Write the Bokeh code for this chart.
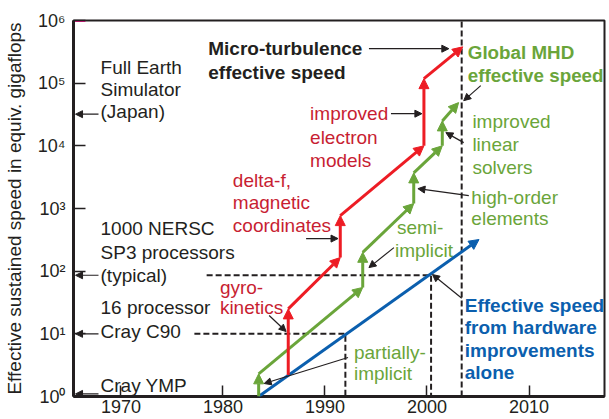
import math
from bokeh.plotting import figure
from bokeh.models import Range1d, FixedTicker, Arrow, NormalHead, ColumnDataSource
from bokeh.core.properties import value
from bokeh.embed import file_html
from bokeh.resources import INLINE

# ---------------- data ----------------
year_ticks = [1970, 1980, 1990, 2000, 2010]
gflops_ticks = [1, 10, 100, 1000, 10000, 100000, 1000000]
gflops_tick_labels = ["10\u2070", "10\u00b9", "10\u00b2", "10\u00b3", "10\u2074", "10\u2075", "10\u2076"]

# Micro-turbulence effective speed (red)
years_micro = [1986.4, 1986.4, 1991.5, 1991.5, 1999.7, 1999.7, 2003.5]
gflops_micro = [2.2, 25, 165, 770, 10000, 118000, 380000]

# Global MHD effective speed (green)
years_mhd = [1983.5, 1983.5, 1993.7, 1993.7, 1998.7, 1998.7, 2001.5, 2001.5, 2003.1]
gflops_mhd = [1, 2.3, 55, 200, 1200, 3700, 10000, 25000, 49000]

# Effective speed from hardware improvements alone (blue)
years_hw = [1983.5, 2005.1]
gflops_hw = [1, 320]

# reference machines
earth_sim_gflops = 32000
nersc_gflops = 86
c90_gflops = 10
ymp_gflops = 1.1
c90_year = 1992.0
nersc_year = 2000.4
now_year = 2003.4

# ---------------- styles ----------------
FONT = "Liberation Sans"
INK = "#231F20"
RED = "#ED1C24"
RED_TXT = "#C81E32"
GREEN = "#6AA53A"
BLUE = "#0B5FAE"
TXT = "19px"

p = figure(width=609, height=419,
           x_range=Range1d(1965.35, 2017.4), y_range=Range1d(1, 1e6),
           y_axis_type="log", output_backend="svg", toolbar_location=None,
           min_border_left=72, min_border_right=5, min_border_top=20,
           min_border_bottom=23)
p.grid.visible = False
p.outline_line_color = INK
p.outline_line_width = 2
p.outline_line_alpha = 1
p.background_fill_color = "white"
p.border_fill_color = "white"

# x axis
p.xaxis.ticker = FixedTicker(ticks=year_ticks, minor_ticks=[])
p.xaxis.axis_line_width = 3
p.xaxis.axis_line_color = INK
p.xaxis.major_tick_in = 11
p.xaxis.major_tick_out = 0
p.xaxis.major_tick_line_width = 1.5
p.xaxis.major_tick_line_color = INK
p.xaxis.minor_tick_line_color = None
p.xaxis.major_label_text_font = FONT
p.xaxis.major_label_text_font_size = "18px"
p.xaxis.major_label_text_color = INK
p.xaxis.major_label_standoff = 3

# y axis
p.yaxis.ticker = FixedTicker(ticks=gflops_ticks, minor_ticks=[])
p.yaxis.major_label_overrides = {t: s for t, s in zip(gflops_ticks, gflops_tick_labels)}
p.yaxis.axis_line_width = 3
p.yaxis.axis_line_color = INK
p.yaxis.major_tick_in = 12
p.yaxis.major_tick_out = 0
p.yaxis.major_tick_line_width = 1.5
p.yaxis.major_tick_line_color = INK
p.yaxis.minor_tick_line_color = None
p.yaxis.major_label_text_font = FONT
p.yaxis.major_label_text_font_size = "18px"
p.yaxis.major_label_text_color = INK
p.yaxis.major_label_standoff = 8
p.yaxis.axis_label = "Effective sustained speed in equiv. gigaflops"
p.yaxis.axis_label_text_font = FONT
p.yaxis.axis_label_text_font_size = "19px"
p.yaxis.axis_label_text_font_style = "normal"
p.yaxis.axis_label_text_color = INK
p.yaxis.axis_label_standoff = 10

# magenta mark at the top tick
p.segment(x0=[1965.35], y0=[1e6], x1=[1966.5], y1=[1e6], line_color="#E0157F", line_width=3)

# dashed reference lines
DASH = "6 3"
p.line([now_year, now_year], [1, 1e6], line_color=INK, line_width=2, line_dash=DASH)
p.line([1977.2, c90_year, c90_year], [c90_gflops, c90_gflops, 1], line_color=INK, line_width=2, line_dash=DASH)
p.line([1978.4, nersc_year, nersc_year], [nersc_gflops, nersc_gflops, 1], line_color=INK, line_width=2, line_dash=DASH)


def arrow_path(xs, ys, color, width, head):
    src = ColumnDataSource(dict(x0=xs[:-1], y0=ys[:-1], x1=xs[1:], y1=ys[1:]))
    p.add_layout(Arrow(end=NormalHead(size=head, fill_color=color, line_color=color, line_width=1),
                       x_start="x0", y_start="y0", x_end="x1", y_end="y1", source=src,
                       line_color=color, line_width=width))


arrow_path(years_hw, gflops_hw, BLUE, 3, 10)
arrow_path(years_mhd, gflops_mhd, GREEN, 3, 10)
arrow_path(years_micro, gflops_micro, RED, 3, 10)


def pointer(x0, l0, x1, l1):
    src = ColumnDataSource(dict(x0=[x0], y0=[10 ** l0], x1=[x1], y1=[10 ** l1]))
    p.add_layout(Arrow(end=NormalHead(size=7, fill_color=INK, line_color=INK, line_width=1),
                       x_start="x0", y_start="y0", x_end="x1", y_end="y1", source=src,
                       line_color=INK, line_width=1.2))


lg = math.log10
pointer(1994.31, 5.55, 2002.14, 5.55)      # micro-turbulence
pointer(1996.47, 4.513, 1999.5, 4.513)     # improved electron models
pointer(1988.15, 2.52, 1991.28, 2.52)      # delta-f
pointer(1984.53, 1.292, 1986.19, 1.037)    # gyrokinetics
pointer(1996.76, 2.376, 1994.31, 2.057)    # semi-implicit
pointer(1992.26, 0.622, 1984.04, 0.207)    # partially implicit
pointer(2005.27, 4.96, 2003.6, 4.721)      # Global MHD
pointer(2003.6, 4.051, 2001.85, 4.211)     # improved linear solvers
pointer(2004.1, 3.206, 1999.11, 3.317)     # high-order elements
pointer(2003.41, 1.568, 2000.54, 1.946)    # hardware
pointer(1967.8, lg(earth_sim_gflops), 1965.55, lg(earth_sim_gflops))
pointer(1967.8, lg(nersc_gflops), 1965.55, lg(nersc_gflops))
pointer(1967.8, lg(c90_gflops), 1965.55, lg(c90_gflops))
pointer(1967.8, lg(ymp_gflops), 1965.55, lg(ymp_gflops))


def txt(x, logs, lines, color, bold=False, size=TXT):
    p.text(x=[x] * len(lines), y=[10 ** l for l in logs], text=lines,
           text_font=value(FONT), text_font_size=size,
           text_font_style="bold" if bold else "normal",
           text_color=color, text_align="left", text_baseline="middle")


txt(1968.0, [5.247, 4.896, 4.545], ["Full Earth", "Simulator", "(Japan)"], INK)
txt(1968.0, [2.679, 2.297, 1.93], ["1000 NERSC", "SP3 processors", "(typical)"], INK)
txt(1968.0, [1.419, 1.037], ["16 processor", "Cray C90"], INK)
txt(1968.0, [0.175], ["Cray YMP"], INK)
txt(1978.56, [5.55, 5.167], ["Micro-turbulence", "effective speed"], INK, bold=True)

txt(1988.54, [4.513, 4.131, 3.764], ["improved", "electron", "models"], RED_TXT)
txt(1980.97, [3.445, 3.094, 2.727], ["delta-f,", "magnetic", "coordinates"], RED_TXT)
txt(1979.7, [1.738, 1.419], ["gyro-", "kinetics"], RED_TXT)

txt(1997.05, [2.695], ["semi-"], GREEN)
txt(1996.86, [2.329], ["implicit"], GREEN)
txt(1992.84, [0.702, 0.367], ["partially-", "implicit"], GREEN)
txt(2004.45, [4.386, 4.019, 3.652], ["improved", "linear", "solvers"], GREEN)
txt(2004.35, [3.174, 2.839], ["high-order", "elements"], GREEN)
txt(2004.0, [5.486, 5.12], ["Global MHD", "effective speed"], GREEN, bold=True, size="18.8px")

txt(2003.7, [1.451, 1.10, 0.734, 0.383],
    ["Effective speed", "from hardware", "improvements", "alone"], BLUE, bold=True)

open("out.html", "w").write(file_html(p, INLINE))
